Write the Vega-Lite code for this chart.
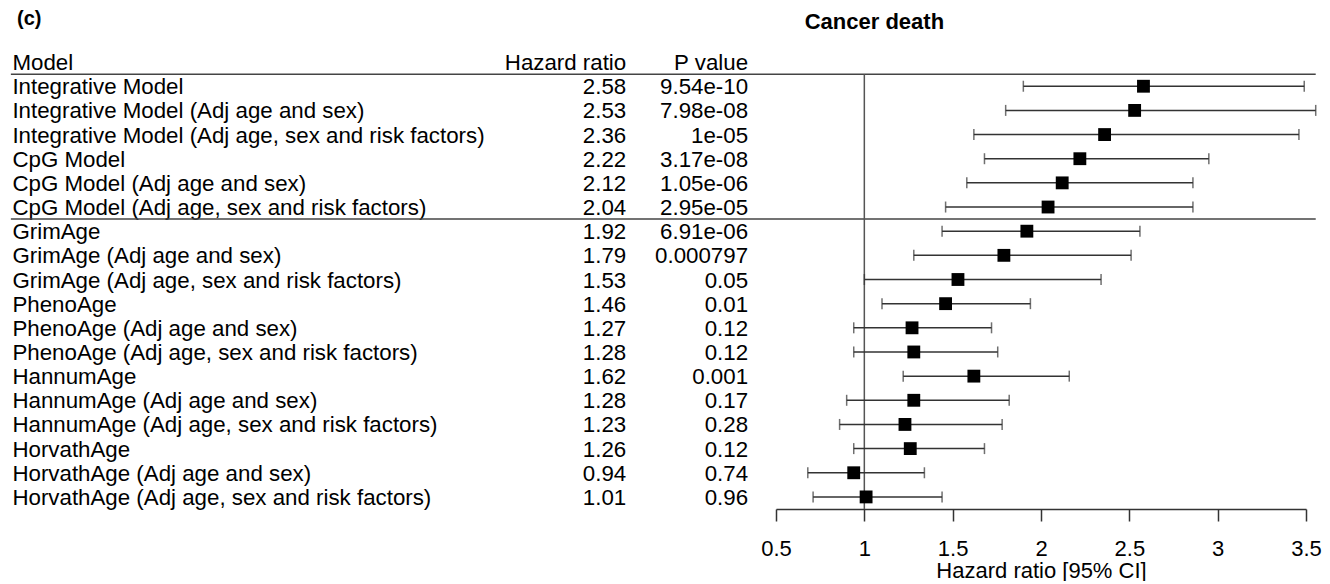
{
  "$schema": "https://vega.github.io/schema/vega-lite/v6.json",
  "background": "white",
  "padding": {"top": 9, "left": 0, "right": 0, "bottom": 0},
  "bounds": "flush",
  "spacing": 0,
  "config": {"view": {"stroke": null}, "font": "Liberation Sans", "text": {"color": "black"}},
  "datasets": {
    "rows": [
      {"row": 0, "model": "Model", "hr": "Hazard ratio", "p": "P value"},
      {"row": 1, "model": "Integrative Model", "hr": "2.58", "p": "9.54e-10", "est": 2.58, "lo": 1.90, "hi": 3.49},
      {"row": 2, "model": "Integrative Model (Adj age and sex)", "hr": "2.53", "p": "7.98e-08", "est": 2.53, "lo": 1.80, "hi": 3.555},
      {"row": 3, "model": "Integrative Model (Adj age, sex and risk factors)", "hr": "2.36", "p": "1e-05", "est": 2.36, "lo": 1.62, "hi": 3.46},
      {"row": 4, "model": "CpG Model", "hr": "2.22", "p": "3.17e-08", "est": 2.22, "lo": 1.68, "hi": 2.95},
      {"row": 5, "model": "CpG Model (Adj age and sex)", "hr": "2.12", "p": "1.05e-06", "est": 2.12, "lo": 1.58, "hi": 2.86},
      {"row": 6, "model": "CpG Model (Adj age, sex and risk factors)", "hr": "2.04", "p": "2.95e-05", "est": 2.04, "lo": 1.46, "hi": 2.86},
      {"row": 7, "model": "GrimAge", "hr": "1.92", "p": "6.91e-06", "est": 1.92, "lo": 1.44, "hi": 2.56},
      {"row": 8, "model": "GrimAge (Adj age and sex)", "hr": "1.79", "p": "0.000797", "est": 1.79, "lo": 1.28, "hi": 2.51},
      {"row": 9, "model": "GrimAge (Adj age, sex and risk factors)", "hr": "1.53", "p": "0.05", "est": 1.53, "lo": 1.00, "hi": 2.34},
      {"row": 10, "model": "PhenoAge", "hr": "1.46", "p": "0.01", "est": 1.46, "lo": 1.10, "hi": 1.94},
      {"row": 11, "model": "PhenoAge (Adj age and sex)", "hr": "1.27", "p": "0.12", "est": 1.27, "lo": 0.94, "hi": 1.72},
      {"row": 12, "model": "PhenoAge (Adj age, sex and risk factors)", "hr": "1.28", "p": "0.12", "est": 1.28, "lo": 0.94, "hi": 1.755},
      {"row": 13, "model": "HannumAge", "hr": "1.62", "p": "0.001", "est": 1.62, "lo": 1.22, "hi": 2.16},
      {"row": 14, "model": "HannumAge (Adj age and sex)", "hr": "1.28", "p": "0.17", "est": 1.28, "lo": 0.90, "hi": 1.82},
      {"row": 15, "model": "HannumAge (Adj age, sex and risk factors)", "hr": "1.23", "p": "0.28", "est": 1.23, "lo": 0.86, "hi": 1.78},
      {"row": 16, "model": "HorvathAge", "hr": "1.26", "p": "0.12", "est": 1.26, "lo": 0.94, "hi": 1.68},
      {"row": 17, "model": "HorvathAge (Adj age and sex)", "hr": "0.94", "p": "0.74", "est": 0.94, "lo": 0.68, "hi": 1.34},
      {"row": 18, "model": "HorvathAge (Adj age, sex and risk factors)", "hr": "1.01", "p": "0.96", "est": 1.01, "lo": 0.71, "hi": 1.44}
    ]
  },
  "hconcat": [
    {
      "width": 776,
      "height": 459,
      "title": {"text": "(c)", "anchor": "start", "fontSize": 20, "fontWeight": "bold", "dx": 17, "offset": 21, "color": "black"},
      "data": {"name": "rows"},
      "layer": [
        {
          "mark": {"type": "text", "align": "left", "baseline": "middle", "fontSize": 22.3, "dy": 1},
          "encoding": {
            "x": {"datum": 1.6, "type": "quantitative", "scale": {"domain": [0, 100], "nice": false, "zero": false}, "axis": null},
            "y": {"field": "row", "type": "quantitative", "scale": {"domain": [-0.5, 18.5], "reverse": true, "nice": false, "zero": false}, "axis": null},
            "text": {"field": "model"}
          }
        },
        {
          "mark": {"type": "text", "align": "right", "baseline": "middle", "fontSize": 22.3, "dy": 1},
          "encoding": {
            "x": {"datum": 80.7, "type": "quantitative"},
            "y": {"field": "row", "type": "quantitative"},
            "text": {"field": "hr"}
          }
        },
        {
          "mark": {"type": "text", "align": "right", "baseline": "middle", "fontSize": 22.3, "dy": 1},
          "encoding": {
            "x": {"datum": 96.4, "type": "quantitative"},
            "y": {"field": "row", "type": "quantitative"},
            "text": {"field": "p"}
          }
        },
        {
          "data": {"values": [{"k": 1}]},
          "mark": {"type": "rule", "color": "#444444", "strokeWidth": 1.5},
          "encoding": {"x": {"datum": 1.4, "type": "quantitative"}, "x2": {"datum": 100}, "y": {"datum": 0.5, "type": "quantitative"}}
        },
        {
          "data": {"values": [{"k": 1}]},
          "mark": {"type": "rule", "color": "#444444", "strokeWidth": 1.5},
          "encoding": {"x": {"datum": 1.4, "type": "quantitative"}, "x2": {"datum": 100}, "y": {"datum": 6.5, "type": "quantitative"}}
        }
      ]
    },
    {
      "width": 530,
      "height": 459,
      "title": {"text": "Cancer death", "anchor": "start", "fontSize": 22, "fontWeight": "bold", "dx": 44, "offset": 16, "color": "black"},
      "data": {"name": "rows"},
      "layer": [
        {
          "data": {"values": [{"k": 1}]},
          "mark": {"type": "rule", "color": "#444444", "strokeWidth": 1.5},
          "encoding": {
            "x": {"datum": 0.5, "type": "quantitative", "scale": {"domain": [0.5, 3.5], "nice": false, "zero": false},
              "axis": {"values": [0.5, 1, 1.5, 2, 2.5, 3, 3.5], "format": "~g", "grid": false, "tickSize": 12, "tickWidth": 1.5, "tickColor": "#333333", "domainColor": "#333333", "domainWidth": 1.5, "labelFontSize": 22, "labelColor": "black", "labelPadding": 17, "labelFlush": false, "title": "Hazard ratio [95% CI]", "titleFontSize": 22, "titleFontWeight": "normal", "titleColor": "black", "titlePadding": 1}},
            "x2": {"datum": 3.555},
            "y": {"datum": 0.5, "type": "quantitative", "scale": {"domain": [-0.5, 18.5], "reverse": true, "nice": false, "zero": false}, "axis": null}
          }
        },
        {
          "data": {"values": [{"k": 1}]},
          "mark": {"type": "rule", "color": "#444444", "strokeWidth": 1.5},
          "encoding": {"x": {"datum": 0.5, "type": "quantitative"}, "x2": {"datum": 3.555}, "y": {"datum": 6.5, "type": "quantitative"}}
        },
        {
          "data": {"values": [{"k": 1}]},
          "mark": {"type": "rule", "color": "#555555", "strokeWidth": 1.5},
          "encoding": {"x": {"datum": 1, "type": "quantitative"}, "y": {"datum": 0.5, "type": "quantitative"}, "y2": {"datum": 18.5}}
        },
        {
          "mark": {"type": "rule", "color": "#333333", "strokeWidth": 1.5},
          "encoding": {"x": {"field": "lo", "type": "quantitative"}, "x2": {"field": "hi"}, "y": {"field": "row", "type": "quantitative"}}
        },
        {
          "mark": {"type": "tick", "orient": "vertical", "color": "#333333", "size": 11, "thickness": 1.5},
          "encoding": {"x": {"field": "lo", "type": "quantitative"}, "y": {"field": "row", "type": "quantitative"}}
        },
        {
          "mark": {"type": "tick", "orient": "vertical", "color": "#333333", "size": 11, "thickness": 1.5},
          "encoding": {"x": {"field": "hi", "type": "quantitative"}, "y": {"field": "row", "type": "quantitative"}}
        },
        {
          "mark": {"type": "point", "shape": "square", "filled": true, "color": "black", "size": 165, "opacity": 1},
          "encoding": {"x": {"field": "est", "type": "quantitative"}, "y": {"field": "row", "type": "quantitative"}}
        }
      ]
    }
  ]
}
